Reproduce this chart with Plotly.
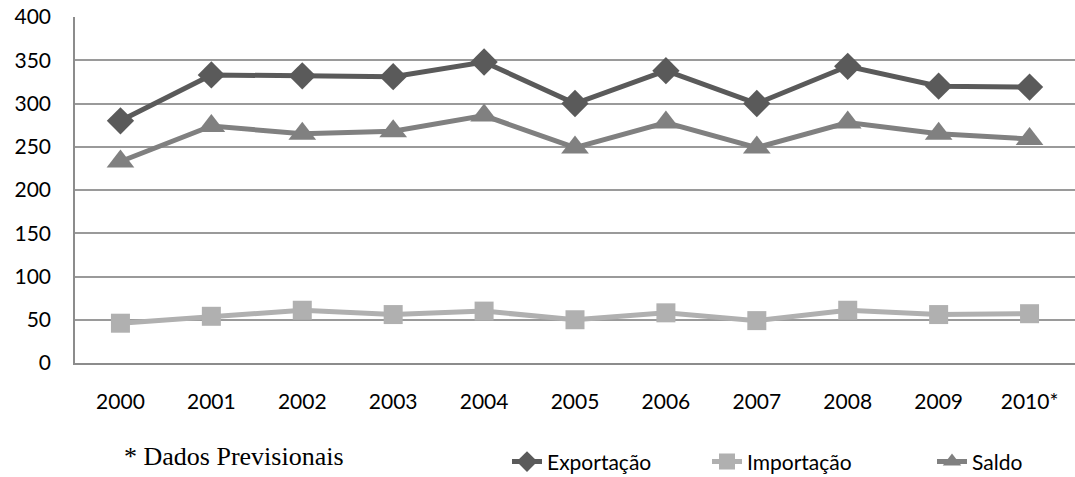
import plotly.graph_objects as go

anos = ["2000", "2001", "2002", "2003", "2004", "2005", "2006", "2007", "2008", "2009", "2010*"]
exportacao = [280, 333, 332, 331, 348, 300, 338, 300, 343, 320, 319]
importacao = [46, 54, 61, 56, 60, 50, 58, 49, 61, 56, 57]
saldo = [233, 274, 265, 268, 286, 249, 278, 249, 278, 265, 259]
y_ticks = [0, 50, 100, 150, 200, 250, 300, 350, 400]

font_main = "Lato, 'Open Sans', sans-serif"

fig = go.Figure()
series = [
    ("Exportação", exportacao, "#5a5a5a", "diamond", 21, 155),
    ("Importação", importacao, "#b0b0b0", "square", 19, 180),
    ("Saldo", saldo, "#808080", "triangle-up", 24, 70),
]
for nome, vals, cor, simbolo, tam, larg in series:
    fig.add_trace(go.Scatter(
        x=anos, y=vals, name=nome, mode="lines+markers",
        line=dict(color=cor, width=5),
        marker=dict(symbol=simbolo, size=tam, color=cor, line=dict(width=0)),
        legendwidth=larg,
    ))

fig.update_layout(
    width=1075, height=477,
    margin=dict(l=75, r=0, t=17, b=114, autoexpand=False),
    paper_bgcolor="white", plot_bgcolor="white",
    font=dict(family=font_main, size=21, color="#000000"),
    showlegend=True,
    legend=dict(orientation="h", x=0.432, y=-0.286, xanchor="left", yanchor="middle",
                font=dict(family=font_main, size=21, color="#000000"),
                itemwidth=30, tracegroupgap=0, bgcolor="rgba(0,0,0,0)"),
    xaxis=dict(type="category", showgrid=False, showline=True, linecolor="#8c8c8c",
               linewidth=1.5, ticks="", tickfont=dict(size=21), ticklen=0,
               ticklabelstandoff=19, range=[-0.5, 10.5], automargin=False),
    yaxis=dict(range=[0, 400], tickvals=y_ticks, showgrid=True, gridcolor="#9a9a9a",
               gridwidth=1.5, showline=True, linecolor="#8c8c8c", linewidth=1.5,
               zeroline=False, ticks="", tickfont=dict(size=21), ticklabelstandoff=18,
               automargin=False),
    annotations=[dict(text="* Dados Previsionais", xref="paper", yref="paper",
                      x=0.047, y=-0.27, xanchor="left", yanchor="middle", showarrow=False,
                      font=dict(family="'Liberation Serif', 'Times New Roman', serif", size=26,
                                color="#000000"))],
)

fig.write_html("out.html")
